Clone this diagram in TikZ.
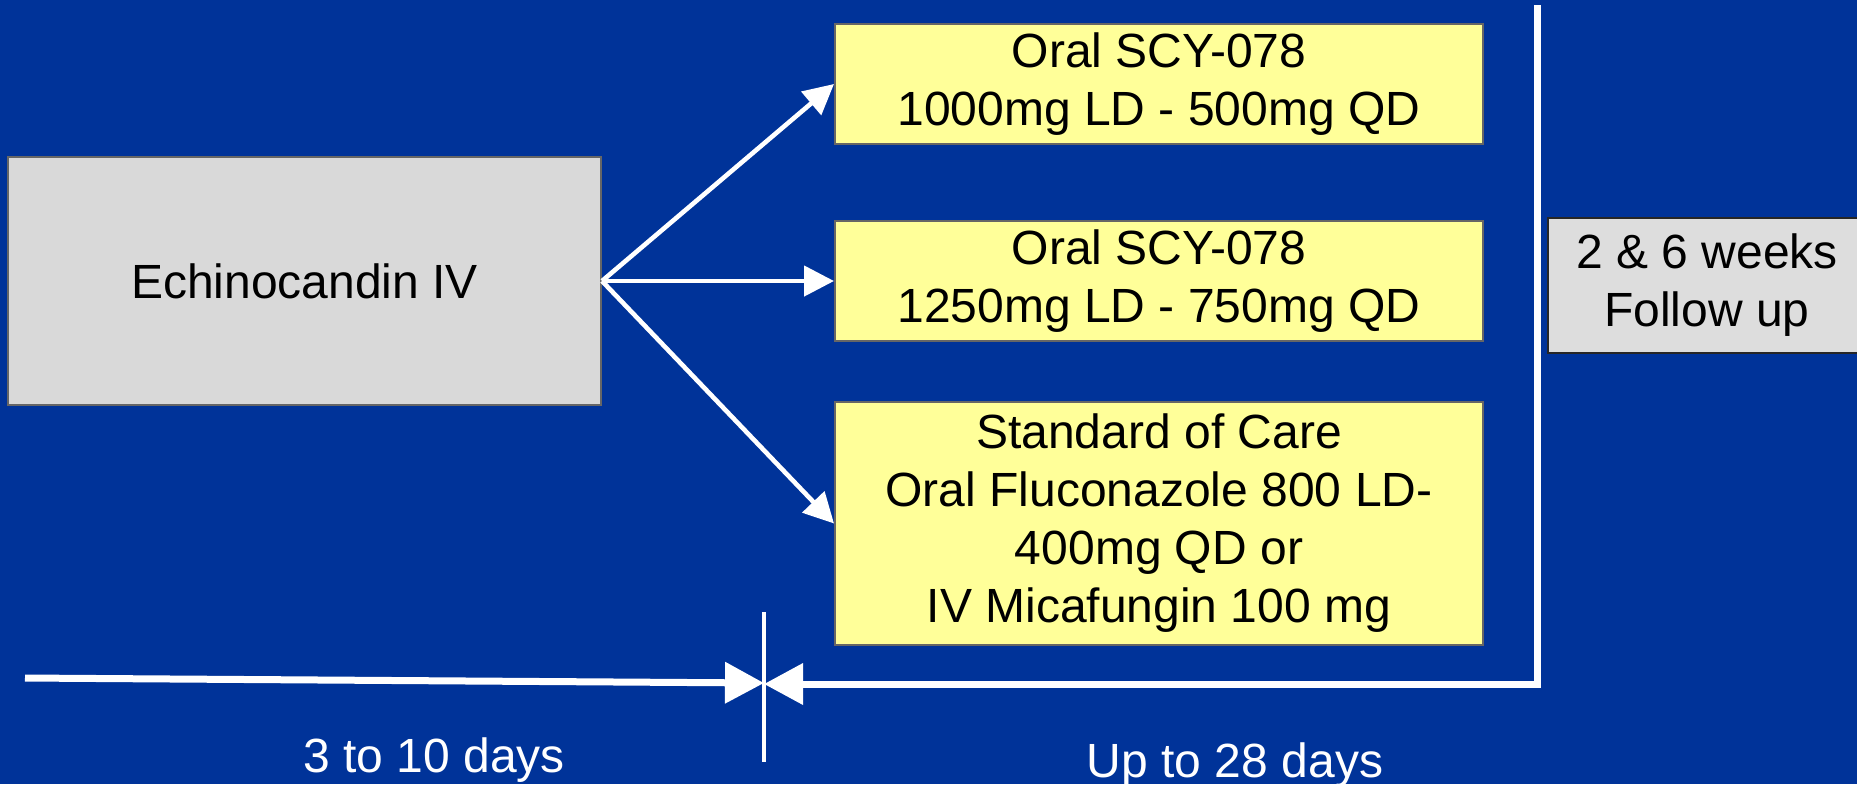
\documentclass[tikz,border=0pt]{standalone}
\usepackage{fontspec}
\setmainfont{Liberation Sans}
\usetikzlibrary{arrows.meta}
\definecolor{bgblue}{HTML}{003399}
\definecolor{boxyellow}{HTML}{FFFF99}
\definecolor{boxgray}{HTML}{D9D9D9}
\definecolor{fugray}{HTML}{DDDDDD}
\definecolor{edgegray}{HTML}{666666}
\tikzset{
  txt/.style={font=\fontsize{24}{29}\selectfont, text=black, align=center, inner sep=0pt},
  graybox/.style={txt, draw=edgegray, line width=1pt, fill=boxgray},
  yellowbox/.style={txt, draw=edgegray, line width=1pt, fill=boxyellow, minimum width=324pt},
  fubox/.style={txt, draw=black!85, line width=1pt, fill=fugray},
  branch/.style={draw=white, line width=2.3pt, -{Triangle[length=15pt,width=15pt]}},
  timeline/.style={draw=white, line width=3.5pt},
  timearrow/.style={timeline, -{Triangle[length=19.5pt,width=20pt]}},
  tick/.style={draw=white, line width=2pt},
  daylabel/.style={font=\fontsize{24}{29}\selectfont, text=white, anchor=base, inner sep=0pt}
}
\begin{document}
\begin{tikzpicture}[x=0.5pt,y=-0.5pt]
  \fill[bgblue] (0,0) rectangle (1857,784);
  \useasboundingbox (0,0) rectangle (1857,784);
  \clip (0,0) rectangle (1857,784);

  \node[graybox, minimum width=296.5pt, minimum height=124pt] (echino) at (304.5,281) {Echinocandin IV};
  \node[yellowbox, minimum height=60pt] (arm1) at (1159,84) {Oral SCY-078\\1000mg LD - 500mg QD};
  \node[yellowbox, minimum height=60pt] (arm2) at (1159,281) {Oral SCY-078\\1250mg LD - 750mg QD};
  \node[yellowbox, minimum height=121.5pt] (arm3) at (1159,523.5) {Standard of Care\\Oral Fluconazole 800 LD-\\400mg QD or\\IV Micafungin 100 mg};
  \node[fubox, minimum width=159pt, minimum height=67.5pt] (fu) at (1707,285.5) {2 \& 6 weeks\\Follow up};

  \draw[branch] (echino.east) -- (arm1.west);
  \draw[branch] (echino.east) -- (arm2.west);
  \draw[branch] (echino.east) -- (arm3.west);

  \coordinate (tleft) at (25,678);
  \coordinate (tmid) at (764,683);
  \coordinate (ttop) at (764,612);
  \coordinate (tbot) at (764,762);
  \coordinate (rtop) at (1537,5);
  \coordinate (rcorner) at (1537,684);
  \coordinate (rend) at (764,684);

  \draw[timearrow] (tleft) -- (tmid);
  \draw[timearrow] (rtop) -- (rcorner) -- (rend);
  \draw[tick] (ttop) -- (tbot);

  \node[daylabel] (lab1) at (434,772) {3 to 10 days};
  \node[daylabel] (lab2) at (1235,777) {Up to 28 days};
\end{tikzpicture}
\end{document}
